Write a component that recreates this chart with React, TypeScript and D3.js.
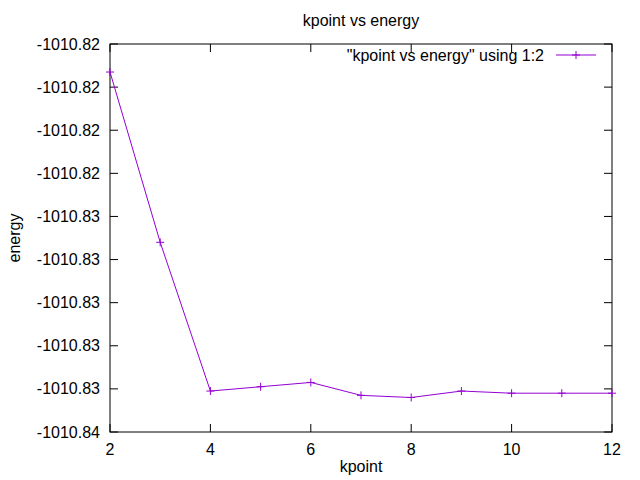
import React from "react";
import * as d3 from "d3";

const kpoints = [2, 3, 4, 5, 6, 7, 8, 9, 10, 11, 12];
const energies = [-1010.8193, -1010.8272, -1010.8341, -1010.8339, -1010.8337, -1010.8343, -1010.8344, -1010.8341, -1010.8342, -1010.8342, -1010.8342];
const yTicks = [-1010.818, -1010.82, -1010.822, -1010.824, -1010.826, -1010.828, -1010.83, -1010.832, -1010.834, -1010.836];
const xTicks = [2, 4, 6, 8, 10, 12];

export default function App() {
  const L = 110, R = 612, T = 44, B = 432;
  const x = d3.scaleLinear().domain([2, 12]).range([L, R]);
  const y = d3.scaleLinear().domain([-1010.818, -1010.836]).range([T, B]);
  const line = d3.line<number>().x((_, i) => x(kpoints[i])).y((d) => y(d));
  const color = "#9400d3";
  const font = "'Liberation Sans', Arial, sans-serif";
  const cross = (cx: number, cy: number, k: string) => (
    <path key={k} d={`M${cx - 4},${cy}H${cx + 4}M${cx},${cy - 4}V${cy + 4}`} stroke={color} strokeWidth={1} />
  );
  return (
    <svg width={640} height={480} style={{ position: "absolute", left: 0, top: 0, background: "#fff" }} fontFamily={font} fontSize={16}>
      <rect x={L} y={T} width={R - L} height={B - T} fill="none" stroke="#000" strokeWidth={1} />
      {yTicks.map((t, i) => (
        <g key={"y" + i}>
          <line x1={L} x2={L + 8} y1={y(t)} y2={y(t)} stroke="#000" />
          <line x1={R} x2={R - 8} y1={y(t)} y2={y(t)} stroke="#000" />
          <text x={L - 10} y={y(t)} textAnchor="end" dominantBaseline="central">{t.toFixed(2)}</text>
        </g>
      ))}
      {xTicks.map((t, i) => (
        <g key={"x" + i}>
          <line x1={x(t)} x2={x(t)} y1={B} y2={B - 8} stroke="#000" />
          <line x1={x(t)} x2={x(t)} y1={T} y2={T + 8} stroke="#000" />
          <text x={x(t)} y={B + 17} textAnchor="middle" dominantBaseline="central">{t}</text>
        </g>
      ))}
      <path d={line(energies) || ""} fill="none" stroke={color} strokeWidth={1} />
      {energies.map((e, i) => cross(x(kpoints[i]), y(e), "p" + i))}
      <text x={361} y={20} textAnchor="middle" dominantBaseline="central">kpoint vs energy</text>
      <text x={361} y={466} textAnchor="middle" dominantBaseline="central">kpoint</text>
      <text transform="translate(14,238) rotate(-90)" textAnchor="middle" dominantBaseline="central">energy</text>
      <text x={544} y={55} textAnchor="end" dominantBaseline="central">"kpoint vs energy" using 1:2</text>
      <line x1={556} x2={596} y1={55} y2={55} stroke={color} />
      {cross(576, 55, "leg")}
    </svg>
  );
}
